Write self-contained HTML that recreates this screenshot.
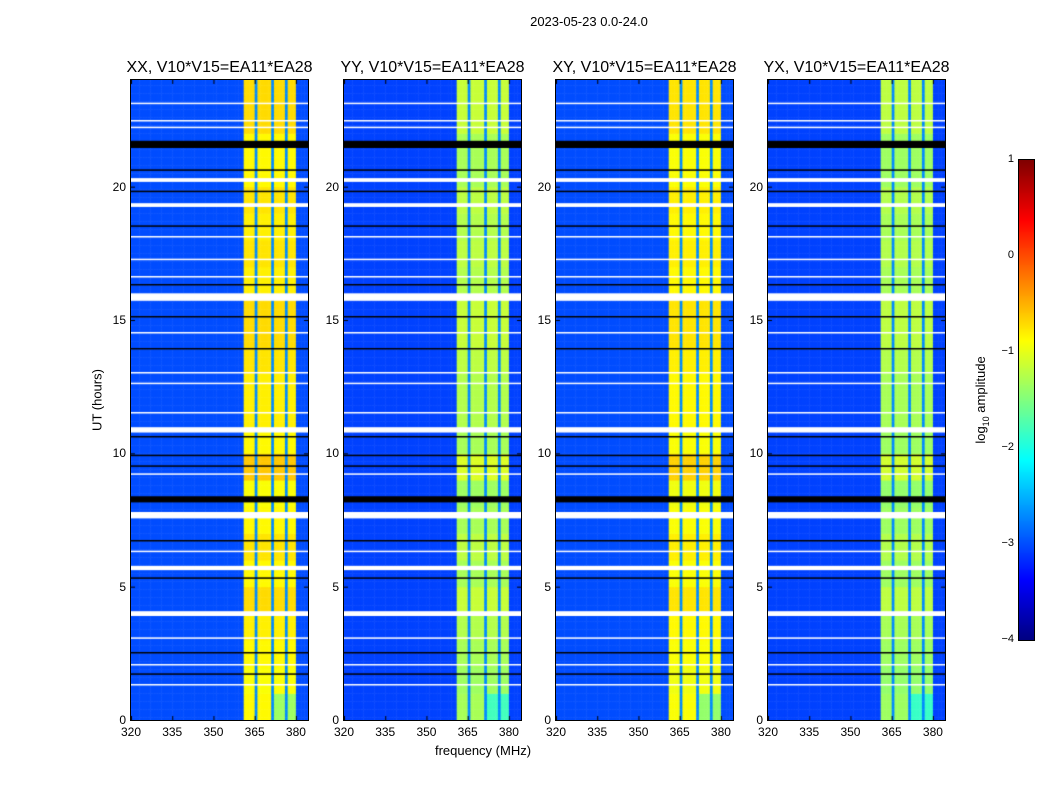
<!DOCTYPE html>
<html><head><meta charset="utf-8"><style>
body{margin:0;background:#fff;width:1050px;height:800px;position:relative;font-family:"Liberation Sans",sans-serif;overflow:hidden}
.t{position:absolute;font-size:12px;color:#000;white-space:nowrap}
canvas{position:absolute}
</style></head><body>
<div class="t" style="left:0;width:1178px;top:14px;text-align:center;font-size:13px">2023-05-23 0.0-24.0</div>
<div class="t" style="left:97px;top:400px;transform:translate(-50%,-50%) rotate(-90deg);font-size:13px">UT (hours)</div>
<div class="t" style="left:483px;top:743px;transform:translateX(-50%);font-size:13px">frequency (MHz)</div>
<div class="t" style="left:982px;top:400px;transform:translate(-50%,-50%) rotate(-90deg);font-size:13px">log<sub style="font-size:9px">10</sub> amplitude</div>
<canvas id="cb" width="15" height="480" style="left:1019px;top:160px;border:1px solid #000;box-sizing:content-box;margin:-1px"></canvas>
<div id="root"></div>
<script>
const panelTitles=["XX, V10*V15=EA11*EA28","YY, V10*V15=EA11*EA28","XY, V10*V15=EA11*EA28","YX, V10*V15=EA11*EA28"];
const panelLefts=[131,344,556,768];
const xTicks=[320,335,350,365,380];
const yTicks=[0,5,10,15,20];
const cbTicks=[1,0,-1,-2,-3,-4];
const bandLevel=[-0.85,-1.3,-0.9,-1.35];
const bgLevel=[-3.0,-3.05,-3.0,-3.05];
// per-hour band offsets (0..23)
const hourOffset=[0.0,-0.05,0.0,0.05,0.15,0.0,0.1,0.0,-0.05,0.25,0.0,0.05,0.05,0.1,0.15,0.15,0.05,0.1,0.05,0.1,0.0,0.0,0.15,0.15];
// channel class per 1 MHz from 320: 0 background, 1 band, 2 band-edge line
const chanClass=[0,0,0,0,0,0,0,0,0,0,0,0,0,0,0,0,0,0,0,0,0,0,0,0,0,0,0,0,0,0,0,0,0,0,0,0,0,0,0,0,0,1,1,1,1,2,1,1,1,1,1,2,1,1,1,1,2,1,1,1,0,0,0,0,0];
// flagged time intervals [start,end] hours
const whiteRows=[[20.18,20.32],[19.24,19.38],[15.72,16.0],[10.78,10.98],[7.56,7.8],[5.62,5.78],[3.9,4.08],[23.1,23.15],[22.45,22.5],[22.2,22.25],[17.25,17.3],[18.1,18.15],[16.6,16.65],[13.0,13.05],[12.6,12.65],[11.5,11.55],[3.05,3.1],[2.05,2.1],[1.3,1.35],[14.5,14.55],[9.2,9.25],[6.3,6.35]];
const blackRows=[[21.45,21.72],[8.16,8.39],[20.6,20.65],[19.8,19.85],[16.3,16.35],[15.1,15.15],[13.9,13.95],[10.6,10.65],[9.9,9.95],[9.5,9.55],[6.7,6.75],[5.3,5.35],[2.5,2.55],[1.7,1.75],[18.5,18.55]];
const fMin=320,fMax=384.4,tMin=0,tMax=24,W=177,H=640,TOP=80;
function jet(v){let x=(v+4)/5;x=Math.max(0,Math.min(1,x));
 const c=t=>Math.round(255*Math.max(0,Math.min(1,1.5-Math.abs(4*x-t))));
 return `rgb(${c(3)},${c(2)},${c(1)})`;}
function xs(f){return (f-fMin)/(fMax-fMin)*W;}
function ys(t){return H-(t-tMin)/(tMax-tMin)*H;}
const root=document.getElementById('root');
panelLefts.forEach((L,p)=>{
 const cv=document.createElement('canvas');cv.width=W;cv.height=H;
 cv.style.left=L+'px';cv.style.top=TOP+'px';cv.style.border='1px solid #000';cv.style.margin='-1px';
 
 
 root.appendChild(cv);const g=cv.getContext('2d');
 for(let r=0;r<240;r++){const t0=r*0.1,h=Math.floor(t0);
  for(let c=0;c<chanClass.length;c++){
   let v=bgLevel[p];
   if(chanClass[c]==1){v=bandLevel[p]+hourOffset[h];if(t0<1&&c>=52)v=bandLevel[p]-0.5;}
   else if(chanClass[c]==2)v=-2.7;
   g.fillStyle=jet(v);const x0=xs(fMin+c),x1=xs(fMin+c+1);
   g.fillRect(x0,ys(t0+0.1),x1-x0+0.5,ys(t0)-ys(t0+0.1)+0.5);}}
 whiteRows.forEach(([a,b])=>{g.fillStyle='#fff';g.fillRect(0,ys(b),W,Math.max(1.5,ys(a)-ys(b)));});
 blackRows.forEach(([a,b])=>{g.fillStyle='#000';g.fillRect(0,ys(b),W,Math.max(1.5,ys(a)-ys(b)));});
 g.fillStyle='#000';
 xTicks.forEach(f=>{g.fillRect(xs(f),H-4,1,4);g.fillRect(xs(f),0,1,4);});
 yTicks.forEach(t=>{g.fillRect(0,ys(t),4,1);g.fillRect(W-4,ys(t),4,1);});
 const tt=document.createElement('div');tt.className='t';tt.textContent=panelTitles[p];
 tt.style.cssText=`left:${L+W/2}px;top:59px;transform:translateX(-50%);font-size:16px`;
 
 
 root.appendChild(tt);
 xTicks.forEach(f=>{const d=document.createElement('div');d.className='t';d.textContent=f;
  d.style.cssText=`left:${L+xs(f)}px;top:725px;transform:translateX(-50%)`;
  
  
  root.appendChild(d);});
 yTicks.forEach(t=>{const d=document.createElement('div');d.className='t';d.textContent=t;
  d.style.cssText=`left:${L-5}px;top:${TOP+ys(t)-7}px;transform:translateX(-100%)`;
  
  
  root.appendChild(d);});
});
const cb=document.getElementById('cb').getContext('2d');
for(let y=0;y<480;y++){cb.fillStyle=jet(1-5*y/480);cb.fillRect(0,y,15,1);}
cbTicks.forEach(v=>{const y=160+(1-v)/5*480;const d=document.createElement('div');d.className='t';
 d.textContent=v<0?'\u2212'+(-v):v;
 d.style.cssText=`left:1014px;top:${y-7}px;font-size:11px;transform:translateX(-100%)`;
 
 
 root.appendChild(d);});
</script>
</body></html>
